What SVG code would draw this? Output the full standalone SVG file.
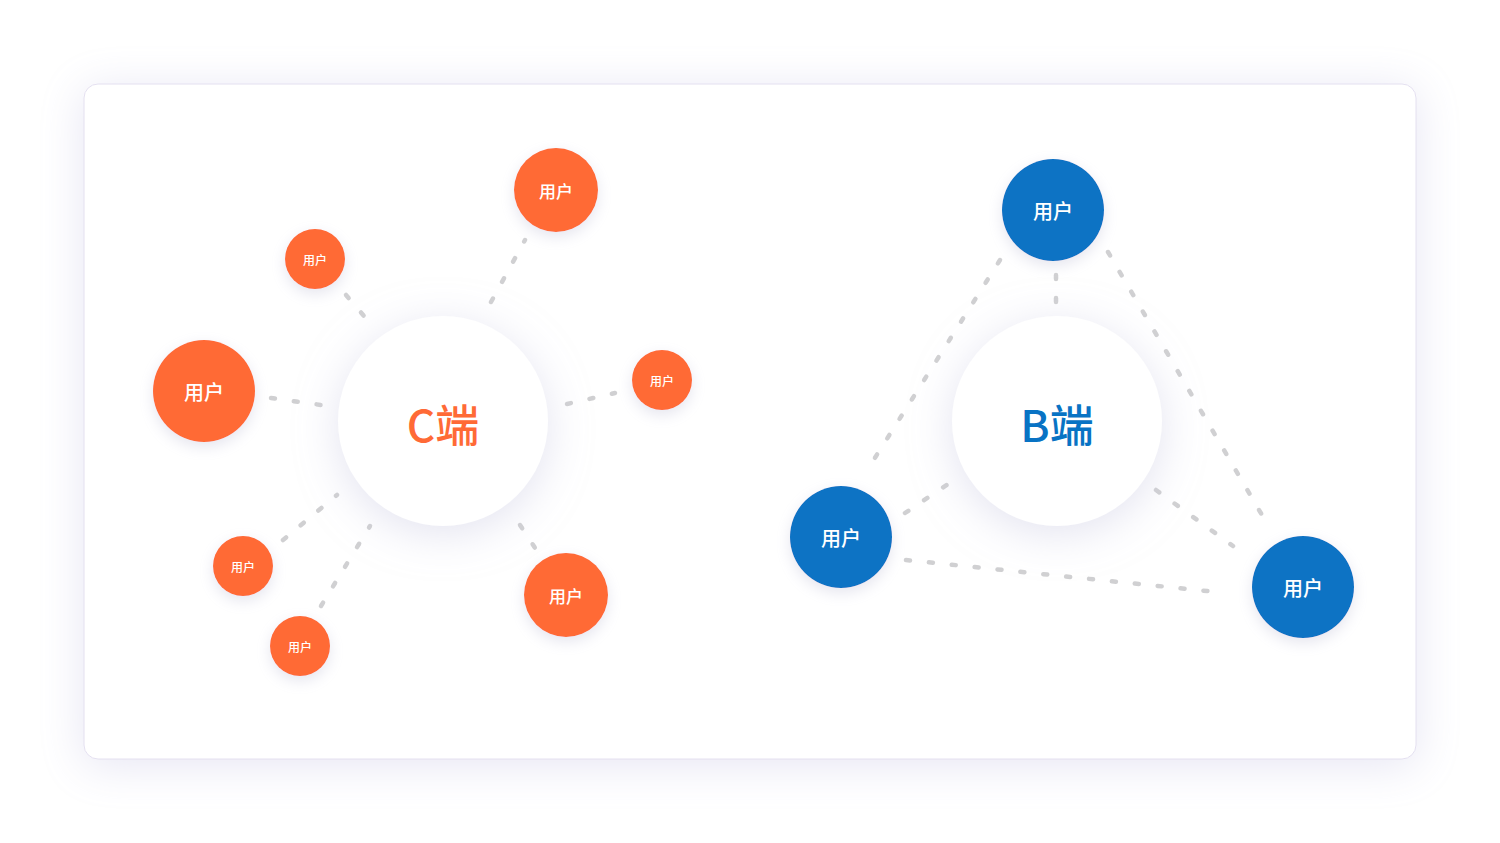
<svg xmlns="http://www.w3.org/2000/svg" width="1500" height="843" viewBox="0 0 1500 843">
<defs>
<filter id="cardShadow" x="-10%" y="-15%" width="120%" height="130%">
<feDropShadow dx="0" dy="6" stdDeviation="22" flood-color="#c9c6e6" flood-opacity="0.45"/>
</filter>
<filter id="hubShadow" x="-50%" y="-50%" width="200%" height="200%">
<feDropShadow dx="0" dy="8" stdDeviation="20" flood-color="#c8c8e2" flood-opacity="0.5"/>
</filter>
<filter id="nodeShadow" x="-50%" y="-50%" width="200%" height="200%">
<feDropShadow dx="0" dy="5" stdDeviation="7" flood-color="#c8c8dc" flood-opacity="0.45"/>
</filter>
</defs>
<style>
.card{fill:#ffffff;stroke:#e4e0f0;stroke-width:1}
.hub{fill:#ffffff;filter:url(#hubShadow)}
.o{fill:#FF6A36;filter:url(#nodeShadow)}
.b{fill:#0873C4;filter:url(#nodeShadow)}
.lbl{fill:#ffffff;font-family:"Noto Sans CJK SC","Noto Sans",sans-serif;font-weight:500;text-anchor:middle;dominant-baseline:central}
.hubt{font-family:"Noto Sans CJK SC","Noto Sans",sans-serif;font-weight:500;font-size:44px;text-anchor:middle;dominant-baseline:central}
.dash{stroke:#d0d0d2;stroke-width:4.5;stroke-linecap:round;stroke-dasharray:4 19;fill:none}
</style>
<rect width="1500" height="843" fill="#ffffff"/>
<rect class="card" x="84" y="84" width="1332" height="675" rx="14" filter="url(#cardShadow)"/>
<g id="connectors">
<line class="dash" x1="491" y1="302" x2="525" y2="240"/>
<line class="dash" x1="346" y1="295" x2="364" y2="316"/>
<line class="dash" x1="271" y1="398" x2="321" y2="405"/>
<line class="dash" x1="567" y1="404" x2="615" y2="393"/>
<line class="dash" x1="283" y1="540" x2="337" y2="495"/>
<line class="dash" x1="321" y1="606" x2="370" y2="526"/>
<line class="dash" x1="520" y1="525" x2="537" y2="551"/>
<line class="dash" x1="1056" y1="275" x2="1056" y2="303"/>
<line class="dash" x1="1000" y1="260" x2="866" y2="472"/>
<line class="dash" x1="1108" y1="252" x2="1269" y2="527"/>
<line class="dash" x1="905" y1="513" x2="948" y2="484"/>
<line class="dash" x1="1156" y1="490" x2="1233" y2="546"/>
<line class="dash" x1="906" y1="560" x2="1226" y2="593"/>
</g>
<g id="hubC">
<circle class="hub" cx="443" cy="421" r="105"/>
<text class="hubt" x="443" y="423" fill="#FF6A36">C端</text>
</g>
<g id="hubB">
<circle class="hub" cx="1057" cy="421" r="105"/>
<text class="hubt" x="1057" y="423" fill="#0873C4">B端</text>
</g>
<g id="c1"><circle class="o" cx="556" cy="190" r="42"/><text class="lbl" x="556" y="190" font-size="17">用户</text></g>
<g id="c2"><circle class="o" cx="315" cy="259" r="30"/><text class="lbl" x="315" y="259" font-size="12">用户</text></g>
<g id="c3"><circle class="o" cx="204" cy="391" r="51"/><text class="lbl" x="204" y="391" font-size="20">用户</text></g>
<g id="c4"><circle class="o" cx="662" cy="380" r="30"/><text class="lbl" x="662" y="380" font-size="12">用户</text></g>
<g id="c5"><circle class="o" cx="243" cy="566" r="30"/><text class="lbl" x="243" y="566" font-size="12">用户</text></g>
<g id="c6"><circle class="o" cx="300" cy="646" r="30"/><text class="lbl" x="300" y="646" font-size="12">用户</text></g>
<g id="c7"><circle class="o" cx="566" cy="595" r="42"/><text class="lbl" x="566" y="595" font-size="17">用户</text></g>
<g id="b1"><circle class="b" cx="1053" cy="210" r="51"/><text class="lbl" x="1053" y="210" font-size="20">用户</text></g>
<g id="b2"><circle class="b" cx="841" cy="537" r="51"/><text class="lbl" x="841" y="537" font-size="20">用户</text></g>
<g id="b3"><circle class="b" cx="1303" cy="587" r="51"/><text class="lbl" x="1303" y="587" font-size="20">用户</text></g>
</svg>
